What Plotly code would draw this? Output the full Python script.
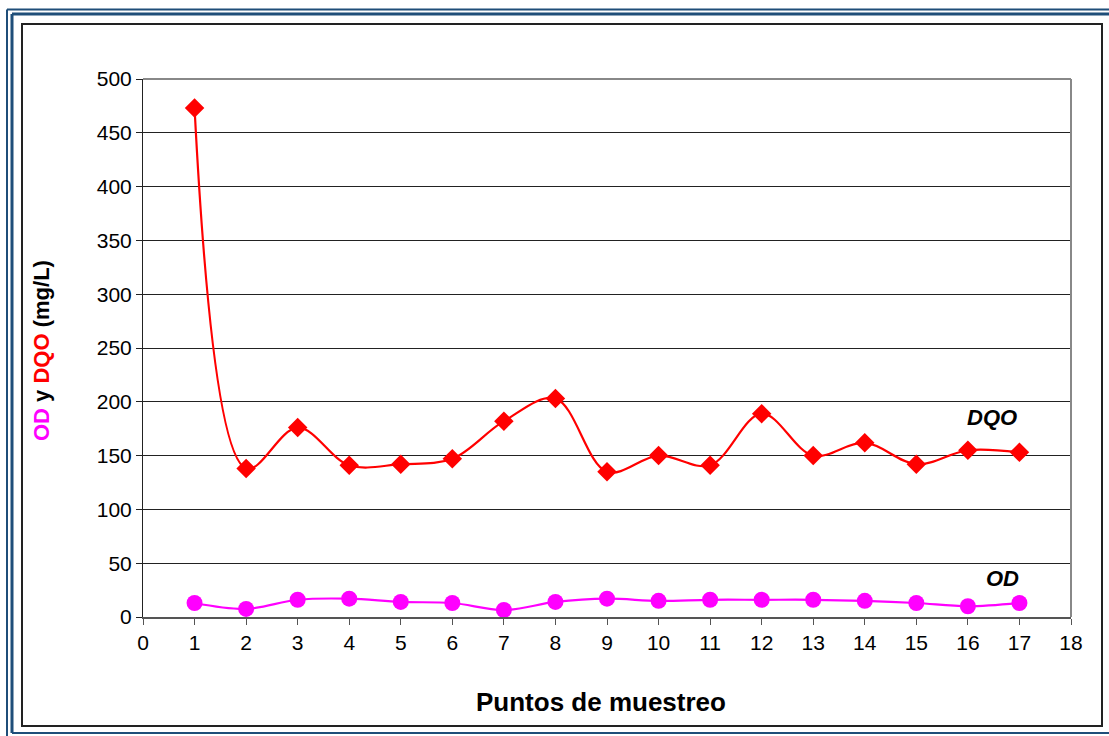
import plotly.graph_objects as go

puntos = list(range(1, 18))
dqo = [473, 138, 176, 141, 142, 147, 182, 203, 135, 150, 141, 189, 150, 162, 142, 155, 153]
od = [13, 7.5, 16, 17, 14, 13, 6.5, 14, 17, 15, 16, 16, 16, 15, 13, 10, 13]
x_ticks = list(range(0, 19))
y_ticks = list(range(0, 501, 50))

W, H = 1109, 736
L, R, T, B = 143, 1071, 79, 617
PW, PH = R - L, B - T

def px(x):
    return (x - L) / PW

def py(y):
    return (B - y) / PH

fig = go.Figure()
fig.add_trace(go.Scatter(
    x=puntos, y=dqo, mode="lines+markers", name="DQO",
    line=dict(color="#FF0000", width=2.2, shape="spline", smoothing=1),
    marker=dict(symbol="diamond", size=15, color="#FF0000"),
    cliponaxis=False,
))
fig.add_trace(go.Scatter(
    x=puntos, y=od, mode="lines+markers", name="OD",
    line=dict(color="#FF00FF", width=2.2, shape="spline", smoothing=1),
    marker=dict(symbol="circle", size=16, color="#FF00FF"),
    cliponaxis=False,
))

shapes = []
navy = "#1F4E79"
# outer double frame
shapes.append(dict(type="line", xref="paper", yref="paper", x0=px(7), y0=py(9.5), x1=px(1115), y1=py(9.5), line=dict(color=navy, width=2)))
shapes.append(dict(type="line", xref="paper", yref="paper", x0=px(7), y0=py(9.5), x1=px(7), y1=py(745), line=dict(color=navy, width=2)))
shapes.append(dict(type="line", xref="paper", yref="paper", x0=px(12), y0=py(14), x1=px(1115), y1=py(14), line=dict(color=navy, width=3)))
shapes.append(dict(type="line", xref="paper", yref="paper", x0=px(12), y0=py(14), x1=px(12), y1=py(733), line=dict(color=navy, width=3)))
shapes.append(dict(type="line", xref="paper", yref="paper", x0=px(12), y0=py(733), x1=px(1115), y1=py(733), line=dict(color=navy, width=2)))
# inner black frame
shapes.append(dict(type="rect", xref="paper", yref="paper", x0=px(22), y0=py(24), x1=px(1102), y1=py(726), line=dict(color="#222222", width=2)))
# plot area top/right gray border
shapes.append(dict(type="line", xref="paper", yref="paper", x0=0, y0=1, x1=1, y1=1, line=dict(color="#888888", width=2)))
shapes.append(dict(type="line", xref="paper", yref="paper", x0=1, y0=0, x1=1, y1=1, line=dict(color="#888888", width=2)))

annotations = [
    dict(x=px(992), y=py(417), text="<b><i>DQO</i></b>", font=dict(size=22, color="black")),
    dict(x=px(1002), y=py(578), text="<b><i>OD</i></b>", font=dict(size=22, color="black")),
    dict(x=px(601), y=py(702), text="<b>Puntos de muestreo</b>", font=dict(size=26, color="black")),
    dict(x=px(41), y=py(351), textangle=-90,
         text="<b><span style='color:#FF00FF'>OD</span> y <span style='color:#FF0000'>DQO</span> (mg/L)</b>",
         font=dict(size=22, color="black")),
]
for a in annotations:
    a.update(xref="paper", yref="paper", showarrow=False, xanchor="center", yanchor="middle")

fig.update_layout(
    width=W, height=H,
    margin=dict(l=L, r=W - R, t=T, b=H - B),
    paper_bgcolor="white", plot_bgcolor="white",
    showlegend=False,
    font=dict(family="Arial, Liberation Sans, sans-serif", size=21, color="black"),
    shapes=shapes,
    annotations=annotations,
    xaxis=dict(
        range=[0, 18], tickvals=x_ticks, ticktext=[str(v) for v in x_ticks],
        showgrid=False, zeroline=False,
        showline=True, linecolor="#555555", linewidth=2,
        ticks="outside", ticklen=6, tickcolor="#555555", tickwidth=1,
        tickfont=dict(size=21),
    ),
    yaxis=dict(
        range=[0, 500], tickvals=y_ticks, ticktext=[str(v) for v in y_ticks],
        showgrid=True, gridcolor="#222222", gridwidth=1, zeroline=False,
        showline=True, linecolor="#222222", linewidth=1,
        ticks="outside", ticklen=6, tickcolor="#222222", tickwidth=1,
        tickfont=dict(size=21),
    ),
)

fig.write_html(
    "out.html",
    config={"displayModeBar": False},
    post_script="document.body.style.margin='0';document.body.style.overflow='hidden';",
)
